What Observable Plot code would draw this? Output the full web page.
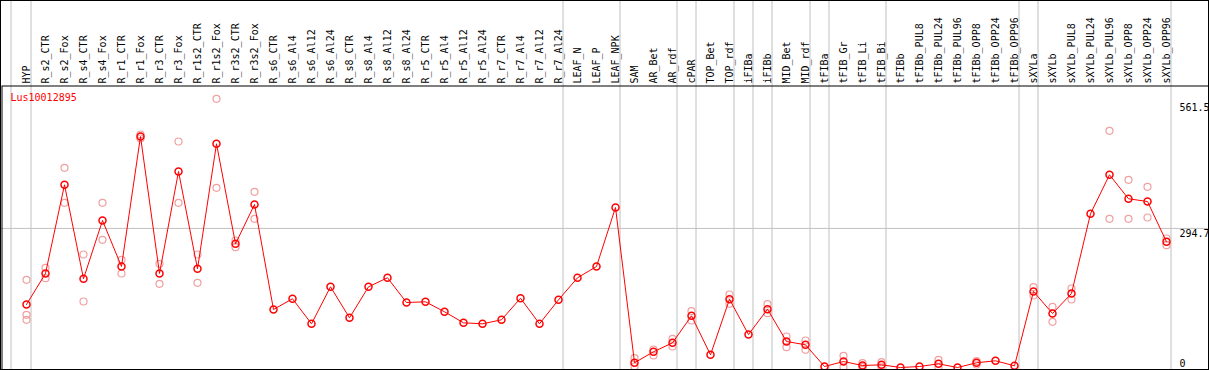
<!DOCTYPE html>
<html>
<head>
<meta charset="utf-8">
<script src="https://cdn.jsdelivr.net/npm/d3@7"></script>
<script src="https://cdn.jsdelivr.net/npm/@observablehq/plot@0.6"></script>
<style>
  html, body { margin: 0; padding: 0; background: #fff; }
  #chart svg { display: block; outline: 1px solid #000; outline-offset: -1px; }
</style>
</head>
<body>
<div id="chart"></div>
<script>
const geneId = "Lus10012895";

const categories = [
  "HYP","R_s2_CTR","R_s2_Fox","R_s4_CTR","R_s4_Fox","R_r1_CTR","R_r1_Fox","R_r3_CTR","R_r3_Fox",
  "R_r1s2_CTR","R_r1s2_Fox","R_r3s2_CTR","R_r3s2_Fox","R_s6_CTR","R_s6_Al4","R_s6_Al12","R_s6_Al24",
  "R_s8_CTR","R_s8_Al4","R_s8_Al12","R_s8_Al24","R_r5_CTR","R_r5_Al4","R_r5_Al12","R_r5_Al24",
  "R_r7_CTR","R_r7_Al4","R_r7_Al12","R_r7_Al24","LEAF_N","LEAF_P","LEAF_NPK","SAM","AR_Bet","AR_rdf",
  "cPAR","TOP_Bet","TOP_rdf","iFIBa","iFIBb","MID_Bet","MID_rdf","tFIBa","tFIB_Gr","tFIB_Li","tFIB_Bi",
  "tFIBb","tFIBb_PUL8","tFIBb_PUL24","tFIBb_PUL96","tFIBb_OPP8","tFIBb_OPP24","tFIBb_OPP96",
  "sXYLa","sXYLb","sXYLb_PUL8","sXYLb_PUL24","sXYLb_PUL96","sXYLb_OPP8","sXYLb_OPP24","sXYLb_OPP96"
];

const meanValues = [
  133.5,199.2,387.1,187.9,311.5,214.0,489.5,199.2,415.3,209.1,474.0,262.1,345.4,
  122.9,145.6,92.6,171.0,105.3,171.0,190.1,137.7,139.2,118.0,94.7,92.6,101.1,146.8,92.6,143.4,190.1,214.0,339.0,
  10.0,33.3,52.3,109.5,26.9,144.7,69.9,123.5,55.1,48.1,2.1,12.7,4.2,5.7,0,2.1,7.8,0,10.0,14.2,3.6,
  161.0,114.4,156.8,325.7,408.3,357.5,351.7,266.3
];

const replicateValues = [
  [185.8,111.7,101.1],[211.3,189.2],[423.1,349.0],[239.4,139.8],[349.0,270.6],[228.2,199.2],
  [493.7,485.2],[219.7,177.4],[478.9,349.0],[239.4,179.5],[569.3,380.8],[269.1,254.9],[372.3,315.1],
  [],[],[],[],[],[],[],[],[],[],[],[],[],[],[],[],[],[],[],
  [19.7,2.1],[38.1,25.4],[60.8,44.5],[119.3,99.6],[],[154.7,135.0],[],[134.1,115.1],[65.7,43.0],
  [57.2,37.5],[],[24.8,0.6],[9.1,0.6],[11.2,2.1],[],[],[16.3,0.6],[],[13.3,6.4],[],[],
  [170.1,152.6],[128.6,96.8],[167.4,144.1],[],[501.5,315.1],[397.7,315.1],[382.9,317.8],[273.3,259.1]
];

const groupEnds = ["HYP","R_r7_Al24","LEAF_NPK","AR_rdf","cPAR","TOP_rdf","iFIBa","iFIBb",
  "MID_rdf","tFIBa","tFIB_Bi","tFIBb_OPP96","sXYLa","sXYLb_OPP96"];

const yTopTicks = [561.5, 294.7];
const yBottomTicks = [0];
const yGrid = [294.7];

const means = categories.map((c, i) => ({cat: c, value: meanValues[i]}));
const reps = categories.flatMap((c, i) => replicateValues[i].map(v => ({cat: c, value: v})));

const mono = "'DejaVu Sans Mono', 'Liberation Mono', monospace";

const chart = Plot.plot({
  width: 1209,
  height: 370,
  margin: 0,
  x: {type: "point", domain: categories, range: [26, 1166], padding: 0, axis: null},
  y: {domain: [0, 561.5], range: [367, 102], axis: null},
  style: {fontFamily: mono, fontSize: "10px", background: "#fff", overflow: "visible"},
  marks: [
    Plot.ruleY(yGrid, {stroke: "#c0c0c0", strokeWidth: 1}),
    Plot.ruleX([categories[0]], {dx: -15.5, stroke: "#c0c0c0", strokeWidth: 1}),
    Plot.ruleX(groupEnds, {dx: 4.5, stroke: "#c0c0c0", strokeWidth: 1}),
    Plot.frame({stroke: "#000", strokeWidth: 1, insetTop: 85.5, insetLeft: 1.5, insetRight: 0.5, insetBottom: 0.5}),
    Plot.text(categories, {
      x: d => d, frameAnchor: "top", rotate: -90, textAnchor: "start", lineAnchor: "middle",
      dy: 83, dx: 0.5, fill: "#000", fontFamily: mono, fontSize: 10
    }),
    Plot.text([geneId], {
      frameAnchor: "top-left", dx: 10, dy: 97, textAnchor: "start", lineAnchor: "middle",
      fill: "#ff0000", fontFamily: mono, fontSize: 10
    }),
    Plot.text(yTopTicks, {
      y: d => d, text: d => String(d), frameAnchor: "right", dx: -30, dy: 1,
      textAnchor: "start", lineAnchor: "top", fill: "#000", fontFamily: mono, fontSize: 10
    }),
    Plot.text(yBottomTicks, {
      y: d => d, text: d => String(d), frameAnchor: "right", dx: -30, dy: -1,
      textAnchor: "start", lineAnchor: "bottom", fill: "#000", fontFamily: mono, fontSize: 10
    }),
    Plot.dot(reps, {x: "cat", y: "value", r: 3.5, stroke: "#f0a0a0", strokeWidth: 1.2, fill: "none"}),
    Plot.line(means, {x: "cat", y: "value", stroke: "#ff0000", strokeWidth: 1}),
    Plot.dot(means, {x: "cat", y: "value", r: 3.5, stroke: "#ff0000", strokeWidth: 1.5, fill: "none"})
  ]
});

document.getElementById("chart").appendChild(chart);
</script>
</body>
</html>
